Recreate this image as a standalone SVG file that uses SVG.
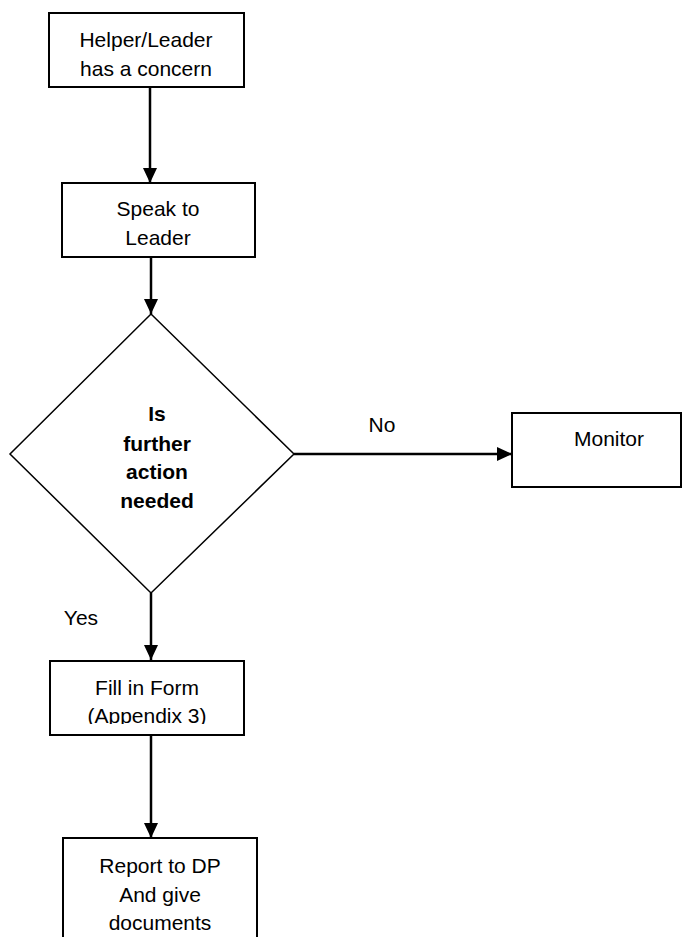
<svg xmlns="http://www.w3.org/2000/svg" width="697" height="937" viewBox="0 0 697 937">
<style>
.box{fill:#fff;stroke:#000;stroke-width:2}
.dia{fill:#fff;stroke:#000;stroke-width:1.5}
.t{font-family:"Liberation Sans",Arial,sans-serif;font-size:21px;fill:#000;text-anchor:middle}
.b{font-weight:bold}
.c{stroke:#000;stroke-width:2.5;fill:none}
</style>
<defs>
<marker id="ah" viewBox="0 0 15 14" refX="15" refY="7" markerWidth="15" markerHeight="14" markerUnits="userSpaceOnUse" orient="auto">
<path d="M0,0 L15,7 L0,14 z" fill="#000"/>
</marker>
<clipPath id="clipFill"><rect x="50" y="661" width="194" height="63"/></clipPath>
</defs>
<rect width="697" height="937" fill="#fff"/>
<g id="connectors">
<line class="c" x1="150" y1="87" x2="150" y2="183" marker-end="url(#ah)"/>
<line class="c" x1="151" y1="257" x2="151" y2="314" marker-end="url(#ah)"/>
<line class="c" x1="294" y1="454" x2="512" y2="454" marker-end="url(#ah)"/>
<line class="c" x1="151" y1="593" x2="151" y2="660" marker-end="url(#ah)"/>
<line class="c" x1="151" y1="735" x2="151" y2="838" marker-end="url(#ah)"/>
<text class="t" x="382" y="432">No</text>
<text class="t" x="81" y="625">Yes</text>
</g>
<g id="n1">
<rect class="box" x="49" y="13" width="195" height="74"/>
<text class="t" x="146" y="47">Helper/Leader</text>
<text class="t" x="146" y="76">has a concern</text>
</g>
<g id="n2">
<rect class="box" x="62" y="183" width="193" height="74"/>
<text class="t" x="158" y="216">Speak to</text>
<text class="t" x="158" y="245">Leader</text>
</g>
<g id="n3">
<polygon class="dia" points="151,314 294,454 151,593 10,454"/>
<text class="t b" x="157" y="421">Is</text>
<text class="t b" x="157" y="451">further</text>
<text class="t b" x="157" y="479">action</text>
<text class="t b" x="157" y="508">needed</text>
</g>
<g id="n4">
<rect class="box" x="512" y="413" width="169" height="74"/>
<text class="t" x="609" y="446">Monitor</text>
</g>
<g id="n5">
<rect class="box" x="50" y="661" width="194" height="74"/>
<g clip-path="url(#clipFill)">
<text class="t" x="147" y="695">Fill in Form</text>
<text class="t" x="147" y="723">(Appendix 3)</text>
</g>
</g>
<g id="n6">
<path class="box" d="M63,940 L63,838 L257,838 L257,940"/>
<text class="t" x="160" y="873">Report to DP</text>
<text class="t" x="160" y="902">And give</text>
<text class="t" x="160" y="930">documents</text>
</g>
</svg>
